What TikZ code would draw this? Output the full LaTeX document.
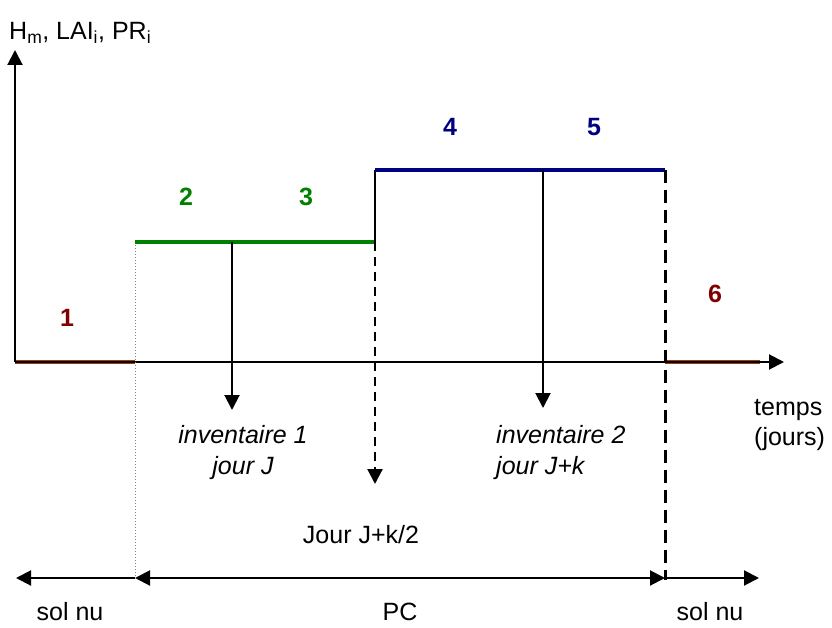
\documentclass[tikz,border=0pt]{standalone}
\usepackage{fontspec}
\setmainfont{Liberation Sans}
\usetikzlibrary{arrows.meta}
\definecolor{brownline}{RGB}{160,60,10}
\definecolor{numred}{RGB}{128,0,0}
\definecolor{phgreen}{RGB}{0,128,0}
\definecolor{phblue}{RGB}{0,0,128}
\tikzset{
  tip/.style={-{Triangle[length=15pt,width=15pt]}},
  dtip/.style={{Triangle[length=15pt,width=15pt]}-{Triangle[length=15pt,width=15pt]}},
  axisline/.style={line width=2pt, black},
  lbl/.style={font=\fontsize{25}{30}\selectfont, inner sep=0pt},
  ital/.style={font=\fontsize{25}{31}\selectfont\itshape, inner sep=0pt, align=center},
  num/.style={font=\fontsize{25}{30}\selectfont\bfseries, inner sep=0pt},
}
\begin{document}
\begin{tikzpicture}[x=1pt,y=-1pt]
\useasboundingbox (0,0) rectangle (832,628);
% coordinates
\coordinate (O) at (15,362);
\coordinate (Ytop) at (15,50);
\coordinate (Xend) at (784,362);
\coordinate (A) at (135,362);
\coordinate (A1) at (135,242);
\coordinate (B1) at (375,242);
\coordinate (B2) at (375,170);
\coordinate (C2) at (665,170);
\coordinate (C0) at (665,362);
\coordinate (D0) at (760,362);
\coordinate (I1s) at (232,242);
\coordinate (I1e) at (232,410);
\coordinate (I2s) at (543,170);
\coordinate (I2e) at (543,408);
\coordinate (Mid) at (375,484);
\coordinate (Cbot) at (665,580);
\coordinate (Abot) at (135,578);
\coordinate (Lbot) at (16,578);
\coordinate (Pbot) at (665,578);
\coordinate (Rbot) at (759,578);
% brown soil lines (under the axis)
\draw[brownline, line width=4pt] (O) -- (A);
\draw[brownline, line width=4pt] (C0) -- (D0);
% axes
\draw[axisline, tip] (O) -- (Ytop);
\draw[axisline, tip] (O) -- (Xend);
% dotted line
\draw[gray, line width=1pt, dotted] (A1) -- (Abot);
% green plateau
\draw[phgreen, line width=3.5pt] (A1) -- (B1);
% step up
\draw[black, line width=2pt] (B1) -- (B2);
% blue plateau
\draw[phblue, line width=3.5pt] (B2) -- (C2);
% dashed lines
\draw[black, line width=3pt, dash pattern=on 13pt off 7pt] (C2) -- (Cbot);
\draw[black, line width=2.2pt, dash pattern=on 9pt off 6pt, -{Triangle[length=15pt,width=15pt]}] (B1) -- (Mid);
% inventory arrows
\draw[axisline, tip] (I1s) -- (I1e);
\draw[axisline, tip] (I2s) -- (I2e);
% bottom arrows
\draw[axisline, tip] (Abot) -- (Lbot);
\draw[axisline, dtip] (Abot) -- (Pbot);
\draw[axisline, tip] (Pbot) -- (Rbot);
% labels
\node[lbl, anchor=west] (ylab) at (9,33) {H\textsubscript{m}, LAI\textsubscript{i}, PR\textsubscript{i}};
\node[num, text=numred] (n1) at (67,318) {1};
\node[num, text=phgreen] (n2) at (186,197) {2};
\node[num, text=phgreen] (n3) at (306,197) {3};
\node[num, text=phblue] (n4) at (450,127) {4};
\node[num, text=phblue] (n5) at (594,127) {5};
\node[num, text=numred] (n6) at (715,294) {6};
\node[ital, anchor=north] (inv1) at (243,425) {inventaire 1\\jour J};
\node[ital, anchor=north west, align=left] (inv2) at (496,425) {inventaire 2\\jour J+k};
\node[lbl, align=left, anchor=north west] (temps) at (754,399) {temps\\(jours)};
\node[lbl] (mid) at (361,535) {Jour J+k/2};
\node[lbl] (s1) at (70,612) {sol nu};
\node[lbl] (pc) at (400,612) {PC};
\node[lbl] (s2) at (710,612) {sol nu};
\end{tikzpicture}
\end{document}
